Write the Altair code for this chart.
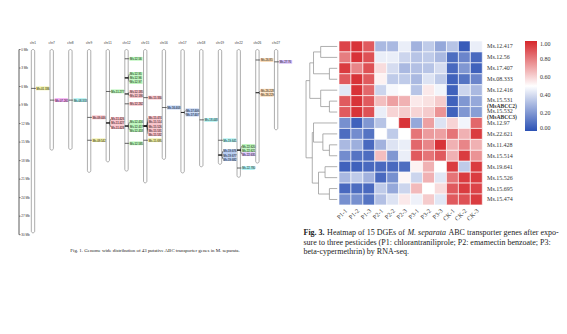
import altair as alt
import pandas as pd

# ---------------- Fig. 1 : chromosome map data ----------------
chrom_names = ["chr1", "chr7", "chr8", "chr9", "chr11", "chr12", "chr15",
               "chr16", "chr17", "chr18", "chr19", "chr22", "chr26", "chr27"]
chrom_length_mb = [29.7, 16.3, 16.2, 19.9, 18.2, 19.7, 21.6,
                   17.8, 20.0, 19.0, 18.6, 20.7, 18.4, 13.0]

gene_names = ["Ms.01.336", "Ms.07.265", "Ms.08.333", "Ms.09.446", "Ms.09.542",
              "Ms.11.277", "Ms.11.426", "Ms.11.427", "Ms.11.428",
              "Ms.12.56", "Ms.12.95", "Ms.12.96", "Ms.12.97", "Ms.12.185", "Ms.12.186",
              "Ms.12.262", "Ms.12.416", "Ms.12.417", "Ms.12.418", "Ms.12.585",
              "Ms.15.330", "Ms.15.474", "Ms.15.514", "Ms.15.526", "Ms.15.531", "Ms.15.532",
              "Ms.15.695", "Ms.16.403", "Ms.17.406", "Ms.17.407", "Ms.18.448",
              "Ms.19.641", "Ms.19.676", "Ms.19.677", "Ms.19.682",
              "Ms.22.620", "Ms.22.621", "Ms.22.635", "Ms.22.780",
              "Ms.26.85", "Ms.26.228", "Ms.26.229", "Ms.27.76"]
gene_chrom = ["chr1", "chr7", "chr8", "chr9", "chr9",
              "chr11", "chr11", "chr11", "chr11",
              "chr12", "chr12", "chr12", "chr12", "chr12", "chr12",
              "chr12", "chr12", "chr12", "chr12", "chr12",
              "chr15", "chr15", "chr15", "chr15", "chr15", "chr15",
              "chr15", "chr16", "chr17", "chr17", "chr18",
              "chr19", "chr19", "chr19", "chr19",
              "chr22", "chr22", "chr22", "chr22",
              "chr26", "chr26", "chr26", "chr27"]
gene_mb = [6.3, 8.2, 8.2, 11.0, 14.7,
           6.8, 11.9, 11.9, 11.9,
           1.5, 4.6, 4.6, 4.6, 7.2, 7.2,
           8.8, 12.4, 12.4, 12.4, 15.2,
           7.8, 12.4, 12.4, 12.4, 12.4, 12.4,
           14.7, 9.4, 10.2, 10.2, 11.4,
           14.7, 17.1, 17.1, 17.1,
           16.3, 16.3, 16.3, 19.2,
           1.7, 7.0, 7.0, 2.0]
gene_family = ["ABCD", "ABCE", "ABCF", "ABCC", "ABCD",
               "ABCB", "ABCC", "ABCC", "ABCC",
               "ABCB", "ABCB", "ABCB", "ABCB", "ABCC", "ABCC",
               "ABCC", "ABCB", "ABCB", "ABCB", "ABCB",
               "ABCC", "ABCC", "ABCC", "ABCC", "ABCC", "ABCC",
               "ABCD", "ABCA", "ABCA", "ABCA", "ABCF",
               "ABCF", "ABCA", "ABCA", "ABCA",
               "ABCB", "ABCB", "ABCH", "ABCF",
               "ABCG", "ABCG", "ABCG", "ABCH"]
family_names = ["ABCA", "ABCB", "ABCC", "ABCD", "ABCE", "ABCF", "ABCG", "ABCH"]
family_colors = ["#aac2ec", "#b2f3b2", "#f6b8c0", "#eeee9c",
                 "#f2a4f2", "#a8f0f0", "#f8d6ae", "#d4bcf8"]
axis_ticks_mb = [0, 3, 6, 9, 12, 15, 18, 21, 24, 27, 30]

# ---------------- Fig. 3 : heatmap data ----------------
heat_rows = ["Ms.12.417", "Ms.12.56", "Ms.17.407", "Ms.08.333", "Ms.12.416",
             "Ms.15.531", "Ms.15.532", "Ms.12.97", "Ms.22.621", "Ms.11.428",
             "Ms.15.514", "Ms.19.641", "Ms.15.526", "Ms.15.695", "Ms.15.474"]
heat_cols = ["P1-1", "P1-2", "P1-3", "P2-1", "P2-2", "P2-3",
             "P3-1", "P3-2", "P3-3", "CK-1", "CK-2", "CK-3"]
heat_values = [
    [0.93, 0.97, 0.88, 0.30, 0.30, 0.45, 0.28, 0.35, 0.25, 0.33, 0.03, 0.45],
    [0.80, 0.97, 0.90, 0.45, 0.45, 0.38, 0.33, 0.35, 0.30, 0.08, 0.15, 0.07],
    [0.95, 0.78, 0.90, 0.58, 0.40, 0.30, 0.32, 0.33, 0.40, 0.07, 0.20, 0.05],
    [0.88, 0.97, 0.88, 0.53, 0.35, 0.35, 0.30, 0.42, 0.35, 0.05, 0.10, 0.15],
    [0.43, 0.97, 0.85, 0.38, 0.48, 0.50, 0.33, 0.55, 0.47, 0.05, 0.38, 0.30],
    [0.88, 0.97, 0.88, 0.65, 0.72, 0.68, 0.55, 0.57, 0.62, 0.05, 0.20, 0.25],
    [0.88, 0.97, 0.90, 0.45, 0.60, 0.62, 0.60, 0.62, 0.75, 0.05, 0.20, 0.22],
    [0.18, 0.05, 0.20, 0.33, 0.50, 0.97, 0.25, 0.72, 0.42, 0.60, 0.47, 0.85],
    [0.08, 0.17, 0.10, 0.50, 0.35, 0.50, 0.82, 0.73, 0.72, 0.82, 0.68, 0.95],
    [0.30, 0.27, 0.07, 0.28, 0.42, 0.45, 0.85, 0.78, 0.97, 0.68, 0.78, 0.68],
    [0.17, 0.10, 0.08, 0.65, 0.20, 0.45, 0.88, 0.82, 0.88, 0.68, 0.95, 0.75],
    [0.05, 0.05, 0.07, 0.07, 0.07, 0.08, 0.53, 0.68, 0.50, 0.95, 0.35, 0.95],
    [0.30, 0.35, 0.28, 0.07, 0.18, 0.52, 0.38, 0.68, 0.43, 0.82, 0.95, 0.95],
    [0.07, 0.08, 0.07, 0.35, 0.25, 0.38, 0.66, 0.50, 0.58, 0.88, 0.95, 0.93],
    [0.18, 0.18, 0.10, 0.32, 0.42, 0.55, 0.46, 0.62, 0.43, 0.88, 0.90, 0.95],
]
row_extra_names = {"Ms.15.531": "(MsABCC2)", "Ms.15.532": "(MsABCC3)"}
legend_values = [0.0, 0.2, 0.4, 0.6, 0.8, 1.0]

# row dendrogram (leaves L0..L14 in displayed order)
dendro_node = ["A", "B", "AB", "C", "D", "TOP", "E", "F", "G", "H", "I", "J", "BOT", "ROOT"]
dendro_left = ["L0", "L2", "A", "L5", "L4", "AB", "L9", "L8", "L7", "L11", "L13", "H", "G", "TOP"]
dendro_right = ["L1", "L3", "B", "L6", "C", "D", "L10", "E", "F", "L12", "L14", "I", "J", "BOT"]
dendro_height = [0.53, 0.25, 0.76, 0.25, 0.53, 0.88, 0.25, 0.46, 0.76, 0.39, 0.25, 0.60, 0.80, 1.0]

SERIF = "Liberation Serif"
SANS = "Liberation Sans"

# ======================= left panel =======================
LW, LH = 300, 334
CH_STEP, MB_PX = 18.7, 6.173
xL = alt.Scale(domain=[-33 / CH_STEP, (LW - 33) / CH_STEP], nice=False, zero=False)
yL = alt.Scale(domain=[-49.5 / MB_PX, (LH - 49.5) / MB_PX], nice=False, zero=False, reverse=True)

chroms = pd.DataFrame({"chrom": chrom_names, "length": chrom_length_mb})
chroms["ci"] = range(len(chrom_names))
chroms["x0"] = chroms["ci"] - 0.09
chroms["x1"] = chroms["ci"] + 0.09
chroms["y0"] = 0.0
chroms["lab_y"] = -1.1

genes = pd.DataFrame({"gene": gene_names, "chrom": gene_chrom, "mb": gene_mb, "family": gene_family})
genes["ci"] = genes["chrom"].map({c: i for i, c in enumerate(chrom_names)})
grp = genes.groupby(["chrom", "mb"])
genes["k"] = grp.cumcount()
genes["n"] = grp["gene"].transform("size")
STEP = 0.66
genes["lab_mb"] = genes["mb"] + (genes["k"] - (genes["n"] - 1) / 2) * STEP
genes["xt0"] = genes["ci"] - 0.09
genes["xt1"] = genes["ci"] + 0.09
genes["xb0"] = genes["ci"] + 0.16
genes["xb1"] = genes["ci"] + 0.86
genes["xtxt"] = genes["ci"] + 0.19
genes["yb0"] = genes["lab_mb"] - 0.3
genes["yb1"] = genes["lab_mb"] + 0.3

axis_df = pd.DataFrame({"mb": axis_ticks_mb, "label": [f"{v} Mb" for v in axis_ticks_mb]})

chrom_body = alt.Chart(chroms).mark_rect(
    cornerRadius=1.7, fill="white", stroke="#8a8a8a", strokeWidth=0.7
).encode(
    x=alt.X("x0:Q", scale=xL, axis=None), x2="x1:Q",
    y=alt.Y("y0:Q", scale=yL, axis=None), y2="length:Q",
)
chrom_lab = alt.Chart(chroms).mark_text(font=SANS, fontSize=3.2, color="#333").encode(
    x=alt.X("ci:Q", scale=xL, axis=None), y=alt.Y("lab_y:Q", scale=yL, axis=None), text="chrom:N"
)
gene_tick = alt.Chart(genes).mark_rule(color="black", strokeWidth=0.6).encode(
    x=alt.X("xt0:Q", scale=xL, axis=None), x2="xt1:Q",
    y=alt.Y("mb:Q", scale=yL, axis=None),
)
gene_link = alt.Chart(genes).mark_rule(color="black", strokeWidth=0.5).encode(
    x=alt.X("xt1:Q", scale=xL, axis=None), x2="xb0:Q",
    y=alt.Y("mb:Q", scale=yL, axis=None), y2="lab_mb:Q",
)
gene_box = alt.Chart(genes).mark_rect().encode(
    x=alt.X("xb0:Q", scale=xL, axis=None), x2="xb1:Q",
    y=alt.Y("yb0:Q", scale=yL, axis=None), y2="yb1:Q",
    color=alt.Color("family:N", scale=alt.Scale(domain=family_names, range=family_colors), legend=None),
)
gene_txt = alt.Chart(genes).mark_text(font=SANS, fontSize=2.8, align="left", baseline="middle", color="#111").encode(
    x=alt.X("xtxt:Q", scale=xL, axis=None), y=alt.Y("lab_mb:Q", scale=yL, axis=None), text="gene:N"
)
axis_line = alt.Chart(axis_df).mark_rule(color="#333", strokeWidth=0.8).encode(
    x=alt.value(19), y=alt.Y("min(mb):Q", scale=yL, axis=None), y2="max(mb):Q"
)
axis_tick = alt.Chart(axis_df).mark_rule(color="#333", strokeWidth=0.6).encode(
    x=alt.value(19), x2=alt.value(20.6), y=alt.Y("mb:Q", scale=yL, axis=None)
)
axis_lab = alt.Chart(axis_df).mark_text(font=SANS, fontSize=3, align="left", baseline="middle", color="#333").encode(
    x=alt.value(21.3), y=alt.Y("mb:Q", scale=yL, axis=None), text="label:N"
)
cap1 = alt.Chart(pd.DataFrame({"t": ["Fig. 1. Genome wide distribution of 43 putative ABC transporter genes in M. separata."]})
).mark_text(font=SERIF, fontSize=4.9, align="center", baseline="middle", color="#222").encode(
    x=alt.value(155), y=alt.value(251), text="t:N"
)
left = alt.layer(chrom_body, gene_tick, gene_link, gene_box, gene_txt, chrom_lab,
                 axis_line, axis_tick, axis_lab, cap1).properties(width=LW, height=LH)

# ======================= right panel =======================
RW, RH = 267, 334
CW, RHt = 11.94, 10.93
xR = alt.Scale(domain=[-39 / CW, (RW - 39) / CW], nice=False, zero=False)
yR = alt.Scale(domain=[-41 / RHt, (RH - 41) / RHt], nice=False, zero=False, reverse=True)

cells = []
for r, name in enumerate(heat_rows):
    for c, col in enumerate(heat_cols):
        cells.append({"row": name, "col": col, "r": r, "c": c, "value": heat_values[r][c]})
heat = pd.DataFrame(cells)
heat["r2"] = heat["r"] + 1
heat["c2"] = heat["c"] + 1

heat_rect = alt.Chart(heat).mark_rect(stroke="white", strokeWidth=0.6).encode(
    x=alt.X("c:Q", scale=xR, axis=None), x2="c2:Q",
    y=alt.Y("r:Q", scale=yR, axis=None), y2="r2:Q",
    color=alt.Color("value:Q",
                    scale=alt.Scale(domain=[0, 0.5, 1], range=["#2b51b4", "#ffffff", "#d6262b"], interpolate="rgb"),
                    legend=alt.Legend(orient="none", legendX=225, legendY=41, direction="vertical",
                                      gradientLength=90, gradientThickness=12, title=None,
                                      values=legend_values, format=".2f", labelFont=SERIF,
                                      labelFontSize=6, labelColor="#333", labelOffset=3,
                                      gradientStrokeWidth=0)),
)

rowlab = pd.DataFrame({"row": heat_rows, "r": range(len(heat_rows))})
rowlab["y"] = rowlab["r"] + 0.5 - rowlab["row"].isin(list(row_extra_names)).astype(float) * 0.12
rowlab["x"] = 12.4
row_text = alt.Chart(rowlab).mark_text(font=SERIF, fontSize=6, align="left", baseline="middle", color="#333").encode(
    x=alt.X("x:Q", scale=xR, axis=None), y=alt.Y("y:Q", scale=yR, axis=None), text="row:N"
)
extra = pd.DataFrame({"row": list(row_extra_names), "t": list(row_extra_names.values())})
extra["r"] = extra["row"].map({n: i for i, n in enumerate(heat_rows)})
extra["y"] = extra["r"] + 0.5 + 0.42
extra["x"] = 12.4
extra_text = alt.Chart(extra).mark_text(font=SERIF, fontSize=5.6, fontWeight="bold", align="left",
                                        baseline="middle", color="#333").encode(
    x=alt.X("x:Q", scale=xR, axis=None), y=alt.Y("y:Q", scale=yR, axis=None), text="t:N"
)

collab = pd.DataFrame({"col": heat_cols, "c": range(len(heat_cols))})
collab["x"] = collab["c"] + 0.62
collab["y"] = len(heat_rows) + 0.45
col_text = alt.Chart(collab).mark_text(font=SERIF, fontSize=6.3, angle=315, align="right",
                                       baseline="middle", color="#333").encode(
    x=alt.X("x:Q", scale=xR, axis=None), y=alt.Y("y:Q", scale=yR, axis=None), text="col:N"
)

# dendrogram segments computed from the merge table
node_y = {f"L{i}": i + 0.5 for i in range(len(heat_rows))}
node_h = {f"L{i}": 0.0 for i in range(len(heat_rows))}
segs = []
for nd, a, b, h in zip(dendro_node, dendro_left, dendro_right, dendro_height):
    ya, yb = node_y[a], node_y[b]
    segs.append({"h0": node_h[a], "h1": h, "y0": ya, "y1": ya})
    segs.append({"h0": node_h[b], "h1": h, "y0": yb, "y1": yb})
    segs.append({"h0": h, "h1": h, "y0": ya, "y1": yb})
    node_y[nd] = (ya + yb) / 2
    node_h[nd] = h
dend = pd.DataFrame(segs)
dend["x0"] = -0.15 - dend["h0"] * 2.61
dend["x1"] = -0.15 - dend["h1"] * 2.61
dendro = alt.Chart(dend).mark_rule(color="#9a9a9a", strokeWidth=0.8).encode(
    x=alt.X("x0:Q", scale=xR, axis=None), x2="x1:Q",
    y=alt.Y("y0:Q", scale=yR, axis=None), y2="y1:Q",
)

cap_text = ["Fig. 3.", "Heatmap of 15 DGEs of", "M. separata", "ABC transporter genes after expo-",
            "sure to three pesticides (P1: chlorantraniliprole; P2: emamectin benzoate; P3:",
            "beta-cypermethrin) by RNA-seq."]
cap_style = ["bold", "normal", "italic", "normal", "normal", "normal"]
cap_x = [3.5, 27.1, 107.4, 148.5, 3.5, 3.5]
cap_y = [233.3, 233.3, 233.3, 233.3, 242.5, 251.7]
cap_layers = []
for i, t in enumerate(cap_text):
    kw = {}
    if cap_style[i] == "bold":
        kw["fontWeight"] = "bold"
    if cap_style[i] == "italic":
        kw["fontStyle"] = "italic"
    cap_layers.append(
        alt.Chart(pd.DataFrame({"t": [t]})).mark_text(
            font=SERIF, fontSize=8, align="left", baseline="middle", color="#222", **kw
        ).encode(x=alt.value(cap_x[i]), y=alt.value(cap_y[i]), text="t:N")
    )

right = alt.layer(dendro, heat_rect, row_text, extra_text, col_text, *cap_layers).properties(width=RW, height=RH)

chart = alt.hconcat(left, right, spacing=0).properties(
    padding=0, background="white"
).configure_view(stroke=None).configure_concat(spacing=0)

chart.save("out.html", embed_options={"renderer": "svg", "actions": False})
